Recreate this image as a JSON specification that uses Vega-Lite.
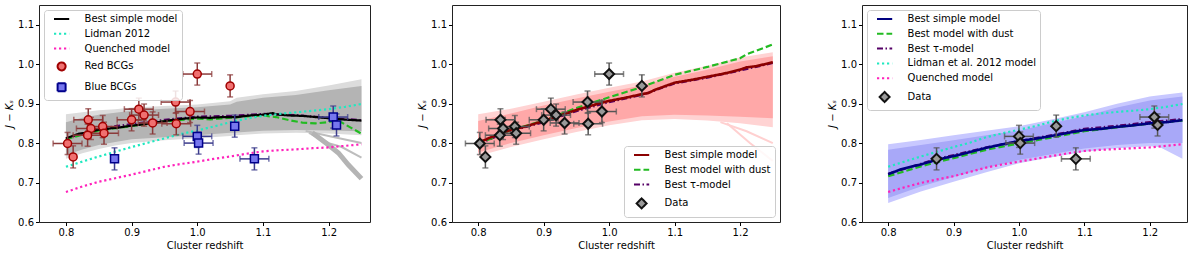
{
"$schema": "https://vega.github.io/schema/vega-lite/v6.json",
"padding": {"left": 4, "top": 4, "right": 0, "bottom": 0},
"spacing": 46,
"resolve": {"scale": {"x": "independent", "y": "independent", "stroke": "independent", "strokeDash": "independent", "shape": "independent", "fill": "independent"}, "legend": {"stroke": "independent", "strokeDash": "independent", "shape": "independent", "fill": "independent"}},
"config": {
  "font": "DejaVu Sans",
  "view": {"stroke": "#222", "strokeWidth": 1},
  "axis": {"grid": false, "domain": false, "labelFontSize": 10, "titleFontSize": 10, "titleFontWeight": "normal", "labelColor": "#000", "titleColor": "#000", "tickColor": "#000", "tickSize": 3.5, "labelPadding": 2, "titlePadding": 3},
  "axisY": {"titleFontStyle": "italic"},
  "legend": {"labelFontSize": 10, "labelColor": "#000", "fillColor": "rgba(255,255,255,0.85)", "strokeColor": "#cccccc", "cornerRadius": 3, "padding": 4, "offset": 5, "symbolSize": 64, "symbolOffset": 8.6, "labelOffset": 18, "rowPadding": 4.8, "symbolStrokeWidth": 2}
},
"datasets": {
  "b1": [
    {"x":0.80,"lt":0.873,"dt":0.853,"db":0.770,"lb":0.760},
    {"x":0.825,"lt":0.878,"dt":0.864,"db":0.784,"lb":0.774},
    {"x":0.85,"lt":0.883,"dt":0.872,"db":0.795,"lb":0.785},
    {"x":0.875,"lt":0.886,"dt":0.877,"db":0.803,"lb":0.794},
    {"x":0.90,"lt":0.890,"dt":0.882,"db":0.810,"lb":0.800},
    {"x":0.95,"lt":0.894,"dt":0.887,"db":0.815,"lb":0.807},
    {"x":1.00,"lt":0.898,"dt":0.891,"db":0.820,"lb":0.812},
    {"x":1.05,"lt":0.906,"dt":0.898,"db":0.826,"lb":0.818},
    {"x":1.06,"lt":0.915,"dt":0.905,"db":0.827,"lb":0.820},
    {"x":1.10,"lt":0.924,"dt":0.915,"db":0.831,"lb":0.824},
    {"x":1.15,"lt":0.932,"dt":0.922,"db":0.833,"lb":0.826},
    {"x":1.20,"lt":0.946,"dt":0.934,"db":0.832,"lb":0.824},
    {"x":1.25,"lt":0.962,"dt":0.945,"db":0.830,"lb":0.820}
  ],
  "s1a": [
    {"id":1,"x":1.165,"y":0.831},{"id":1,"x":1.20,"y":0.818},{"id":1,"x":1.25,"y":0.800},
    {"id":2,"x":1.17,"y":0.826},{"id":2,"x":1.20,"y":0.800},{"id":2,"x":1.22,"y":0.790},{"id":2,"x":1.25,"y":0.763}
  ],
  "s1b": [
    {"x":1.175,"y":0.826},{"x":1.20,"y":0.795},{"x":1.215,"y":0.775},{"x":1.23,"y":0.745},{"x":1.25,"y":0.710}
  ],
  "d1": [
    {"x":0.80,"y":0.810},{"x":0.85,"y":0.832},{"x":0.90,"y":0.843},{"x":0.95,"y":0.855},{"x":1.00,"y":0.862},{"x":1.02,"y":0.860},{"x":1.04,"y":0.863},{"x":1.06,"y":0.865},{"x":1.08,"y":0.868},{"x":1.10,"y":0.870},{"x":1.12,"y":0.866},{"x":1.14,"y":0.858},{"x":1.16,"y":0.852},{"x":1.18,"y":0.850},{"x":1.20,"y":0.853},{"x":1.21,"y":0.858},{"x":1.22,"y":0.852},{"x":1.235,"y":0.838},{"x":1.25,"y":0.824}
  ],
  "t1": [
    {"x":0.80,"y":0.811},{"x":0.85,"y":0.837},{"x":0.90,"y":0.848},{"x":0.95,"y":0.859},{"x":1.00,"y":0.867},{"x":1.05,"y":0.869},{"x":1.10,"y":0.874},{"x":1.15,"y":0.871},{"x":1.20,"y":0.864},{"x":1.25,"y":0.858}
  ],
  "l1": [
    {"s":"Best simple model","x":0.80,"y":0.812},{"s":"Best simple model","x":0.81,"y":0.818},{"s":"Best simple model","x":0.82,"y":0.824},{"s":"Best simple model","x":0.83,"y":0.826},{"s":"Best simple model","x":0.84,"y":0.830},{"s":"Best simple model","x":0.85,"y":0.834},{"s":"Best simple model","x":0.86,"y":0.835},{"s":"Best simple model","x":0.87,"y":0.838},{"s":"Best simple model","x":0.88,"y":0.839},{"s":"Best simple model","x":0.89,"y":0.842},{"s":"Best simple model","x":0.90,"y":0.844},{"s":"Best simple model","x":0.92,"y":0.848},{"s":"Best simple model","x":0.94,"y":0.853},{"s":"Best simple model","x":0.96,"y":0.858},{"s":"Best simple model","x":0.98,"y":0.862},{"s":"Best simple model","x":1.00,"y":0.865},{"s":"Best simple model","x":1.02,"y":0.864},{"s":"Best simple model","x":1.04,"y":0.866},{"s":"Best simple model","x":1.06,"y":0.866},{"s":"Best simple model","x":1.08,"y":0.870},{"s":"Best simple model","x":1.10,"y":0.872},{"s":"Best simple model","x":1.115,"y":0.876},{"s":"Best simple model","x":1.12,"y":0.873},{"s":"Best simple model","x":1.14,"y":0.870},{"s":"Best simple model","x":1.16,"y":0.869},{"s":"Best simple model","x":1.18,"y":0.866},{"s":"Best simple model","x":1.20,"y":0.863},{"s":"Best simple model","x":1.22,"y":0.860},{"s":"Best simple model","x":1.25,"y":0.857},
    {"s":"Lidman 2012","x":0.80,"y":0.740},{"s":"Lidman 2012","x":0.825,"y":0.753},{"s":"Lidman 2012","x":0.85,"y":0.766},{"s":"Lidman 2012","x":0.875,"y":0.778},{"s":"Lidman 2012","x":0.90,"y":0.790},{"s":"Lidman 2012","x":0.925,"y":0.801},{"s":"Lidman 2012","x":0.95,"y":0.812},{"s":"Lidman 2012","x":0.975,"y":0.823},{"s":"Lidman 2012","x":1.00,"y":0.832},{"s":"Lidman 2012","x":1.025,"y":0.842},{"s":"Lidman 2012","x":1.05,"y":0.853},{"s":"Lidman 2012","x":1.075,"y":0.862},{"s":"Lidman 2012","x":1.10,"y":0.869},{"s":"Lidman 2012","x":1.125,"y":0.874},{"s":"Lidman 2012","x":1.15,"y":0.878},{"s":"Lidman 2012","x":1.175,"y":0.882},{"s":"Lidman 2012","x":1.20,"y":0.886},{"s":"Lidman 2012","x":1.225,"y":0.892},{"s":"Lidman 2012","x":1.25,"y":0.899},
    {"s":"Quenched model","x":0.80,"y":0.676},{"s":"Quenched model","x":0.825,"y":0.690},{"s":"Quenched model","x":0.85,"y":0.702},{"s":"Quenched model","x":0.875,"y":0.711},{"s":"Quenched model","x":0.90,"y":0.720},{"s":"Quenched model","x":0.925,"y":0.730},{"s":"Quenched model","x":0.95,"y":0.740},{"s":"Quenched model","x":0.975,"y":0.747},{"s":"Quenched model","x":1.00,"y":0.753},{"s":"Quenched model","x":1.025,"y":0.760},{"s":"Quenched model","x":1.05,"y":0.766},{"s":"Quenched model","x":1.075,"y":0.773},{"s":"Quenched model","x":1.10,"y":0.779},{"s":"Quenched model","x":1.125,"y":0.782},{"s":"Quenched model","x":1.15,"y":0.784},{"s":"Quenched model","x":1.175,"y":0.787},{"s":"Quenched model","x":1.20,"y":0.789},{"s":"Quenched model","x":1.225,"y":0.793},{"s":"Quenched model","x":1.25,"y":0.797}
  ],
  "pts1": [
    {"s":"Red BCGs","x":0.8025,"y":0.799,"xe":0.022,"ye":0.028},
    {"s":"Red BCGs","x":0.811,"y":0.765,"xe":0,"ye":0.028},
    {"s":"Red BCGs","x":0.834,"y":0.859,"xe":0.022,"ye":0.028},
    {"s":"Red BCGs","x":0.838,"y":0.837,"xe":0.022,"ye":0.028},
    {"s":"Red BCGs","x":0.833,"y":0.820,"xe":0.022,"ye":0.028},
    {"s":"Red BCGs","x":0.856,"y":0.842,"xe":0.022,"ye":0.028},
    {"s":"Red BCGs","x":0.858,"y":0.825,"xe":0.022,"ye":0.028},
    {"s":"Red BCGs","x":0.900,"y":0.859,"xe":0.022,"ye":0.028},
    {"s":"Red BCGs","x":0.911,"y":0.886,"xe":0.022,"ye":0.028},
    {"s":"Red BCGs","x":0.919,"y":0.871,"xe":0.022,"ye":0.028},
    {"s":"Red BCGs","x":0.932,"y":0.851,"xe":0.022,"ye":0.028},
    {"s":"Red BCGs","x":0.967,"y":0.904,"xe":0.022,"ye":0.028},
    {"s":"Red BCGs","x":0.968,"y":0.849,"xe":0.022,"ye":0.028},
    {"s":"Red BCGs","x":0.989,"y":0.880,"xe":0.022,"ye":0.028},
    {"s":"Red BCGs","x":1.000,"y":0.975,"xe":0.022,"ye":0.028},
    {"s":"Red BCGs","x":1.050,"y":0.945,"xe":0,"ye":0.028},
    {"s":"Blue BCGs","x":0.874,"y":0.760,"xe":0,"ye":0.028},
    {"s":"Blue BCGs","x":1.000,"y":0.817,"xe":0.022,"ye":0.028},
    {"s":"Blue BCGs","x":1.002,"y":0.800,"xe":0.022,"ye":0.028},
    {"s":"Blue BCGs","x":1.057,"y":0.843,"xe":0,"ye":0.028},
    {"s":"Blue BCGs","x":1.087,"y":0.760,"xe":0.022,"ye":0.028},
    {"s":"Blue BCGs","x":1.207,"y":0.866,"xe":0.022,"ye":0.028},
    {"s":"Blue BCGs","x":1.212,"y":0.846,"xe":0,"ye":0.028}
  ],
  "b2": [
    {"x":0.80,"lt":0.873,"dt":0.856,"db":0.776,"lb":0.767},
    {"x":0.85,"lt":0.887,"dt":0.875,"db":0.800,"lb":0.790},
    {"x":0.90,"lt":0.905,"dt":0.895,"db":0.820,"lb":0.810},
    {"x":0.95,"lt":0.923,"dt":0.913,"db":0.838,"lb":0.828},
    {"x":1.00,"lt":0.940,"dt":0.930,"db":0.855,"lb":0.845},
    {"x":1.05,"lt":0.956,"dt":0.946,"db":0.868,"lb":0.858},
    {"x":1.10,"lt":0.978,"dt":0.968,"db":0.872,"lb":0.861},
    {"x":1.15,"lt":0.996,"dt":0.986,"db":0.870,"lb":0.857},
    {"x":1.20,"lt":1.017,"dt":1.007,"db":0.867,"lb":0.850},
    {"x":1.25,"lt":1.030,"dt":1.020,"db":0.863,"lb":0.840}
  ],
  "s2": [
    {"id":1,"x":1.17,"y":0.853},{"id":1,"x":1.21,"y":0.830},{"id":1,"x":1.25,"y":0.800},
    {"id":2,"x":1.18,"y":0.850},{"id":2,"x":1.215,"y":0.800},{"id":2,"x":1.25,"y":0.755}
  ],
  "l2": [
    {"s":"Best simple model","x":0.80,"y":0.801},{"s":"Best simple model","x":0.82,"y":0.815},{"s":"Best simple model","x":0.85,"y":0.834},{"s":"Best simple model","x":0.87,"y":0.841},{"s":"Best simple model","x":0.90,"y":0.856},{"s":"Best simple model","x":0.925,"y":0.870},{"s":"Best simple model","x":0.95,"y":0.884},{"s":"Best simple model","x":0.975,"y":0.896},{"s":"Best simple model","x":1.00,"y":0.907},{"s":"Best simple model","x":1.025,"y":0.915},{"s":"Best simple model","x":1.05,"y":0.924},{"s":"Best simple model","x":1.06,"y":0.927},{"s":"Best simple model","x":1.07,"y":0.935},{"s":"Best simple model","x":1.10,"y":0.953},{"s":"Best simple model","x":1.125,"y":0.960},{"s":"Best simple model","x":1.15,"y":0.968},{"s":"Best simple model","x":1.175,"y":0.976},{"s":"Best simple model","x":1.20,"y":0.986},{"s":"Best simple model","x":1.21,"y":0.992},{"s":"Best simple model","x":1.225,"y":0.995},{"s":"Best simple model","x":1.25,"y":1.005},
    {"s":"Best model with dust","x":0.80,"y":0.798},{"s":"Best model with dust","x":0.85,"y":0.833},{"s":"Best model with dust","x":0.90,"y":0.857},{"s":"Best model with dust","x":0.95,"y":0.889},{"s":"Best model with dust","x":1.00,"y":0.916},{"s":"Best model with dust","x":1.05,"y":0.942},{"s":"Best model with dust","x":1.10,"y":0.973},{"s":"Best model with dust","x":1.15,"y":0.993},{"s":"Best model with dust","x":1.20,"y":1.015},{"s":"Best model with dust","x":1.21,"y":1.025},{"s":"Best model with dust","x":1.25,"y":1.050},
    {"s":"Best τ-model","x":0.80,"y":0.798},{"s":"Best τ-model","x":0.85,"y":0.831},{"s":"Best τ-model","x":0.90,"y":0.853},{"s":"Best τ-model","x":0.95,"y":0.881},{"s":"Best τ-model","x":1.00,"y":0.904},{"s":"Best τ-model","x":1.05,"y":0.922},{"s":"Best τ-model","x":1.10,"y":0.951},{"s":"Best τ-model","x":1.15,"y":0.966},{"s":"Best τ-model","x":1.20,"y":0.984},{"s":"Best τ-model","x":1.25,"y":1.003}
  ],
  "pts2": [
    {"s":"Data","x":0.8025,"y":0.799,"xe":0.022,"ye":0.028},
    {"s":"Data","x":0.811,"y":0.765,"xe":0,"ye":0.028},
    {"s":"Data","x":0.834,"y":0.859,"xe":0.022,"ye":0.028},
    {"s":"Data","x":0.838,"y":0.837,"xe":0.022,"ye":0.028},
    {"s":"Data","x":0.833,"y":0.820,"xe":0.022,"ye":0.028},
    {"s":"Data","x":0.856,"y":0.842,"xe":0.022,"ye":0.028},
    {"s":"Data","x":0.858,"y":0.825,"xe":0.022,"ye":0.028},
    {"s":"Data","x":0.900,"y":0.859,"xe":0.022,"ye":0.028},
    {"s":"Data","x":0.911,"y":0.886,"xe":0.022,"ye":0.028},
    {"s":"Data","x":0.919,"y":0.871,"xe":0.022,"ye":0.028},
    {"s":"Data","x":0.932,"y":0.851,"xe":0.022,"ye":0.028},
    {"s":"Data","x":0.967,"y":0.904,"xe":0.022,"ye":0.028},
    {"s":"Data","x":0.968,"y":0.849,"xe":0.022,"ye":0.028},
    {"s":"Data","x":0.989,"y":0.880,"xe":0.022,"ye":0.028},
    {"s":"Data","x":1.000,"y":0.975,"xe":0.022,"ye":0.028},
    {"s":"Data","x":1.050,"y":0.945,"xe":0,"ye":0.028}
  ],
  "b3": [
    {"x":0.80,"lt":0.797,"dt":0.783,"db":0.661,"lb":0.648},
    {"x":0.85,"lt":0.808,"dt":0.795,"db":0.690,"lb":0.677},
    {"x":0.90,"lt":0.820,"dt":0.807,"db":0.714,"lb":0.702},
    {"x":0.95,"lt":0.831,"dt":0.820,"db":0.737,"lb":0.726},
    {"x":1.00,"lt":0.843,"dt":0.832,"db":0.757,"lb":0.749},
    {"x":1.05,"lt":0.860,"dt":0.850,"db":0.772,"lb":0.764},
    {"x":1.10,"lt":0.878,"dt":0.868,"db":0.786,"lb":0.778},
    {"x":1.15,"lt":0.900,"dt":0.890,"db":0.795,"lb":0.787},
    {"x":1.20,"lt":0.918,"dt":0.908,"db":0.800,"lb":0.792},
    {"x":1.215,"lt":0.921,"dt":0.911,"db":0.800,"lb":0.790},
    {"x":1.25,"lt":0.928,"dt":0.918,"db":0.800,"lb":0.760}
  ],
  "l3": [
    {"s":"Best τ-model","x":0.80,"y":0.722},{"s":"Best τ-model","x":0.875,"y":0.760},{"s":"Best τ-model","x":0.95,"y":0.789},{"s":"Best τ-model","x":1.00,"y":0.805},{"s":"Best τ-model","x":1.05,"y":0.820},{"s":"Best τ-model","x":1.10,"y":0.836},{"s":"Best τ-model","x":1.15,"y":0.844},{"s":"Best τ-model","x":1.20,"y":0.853},{"s":"Best τ-model","x":1.25,"y":0.861},
    {"s":"Best model with dust","x":0.80,"y":0.716},{"s":"Best model with dust","x":0.85,"y":0.741},{"s":"Best model with dust","x":0.875,"y":0.752},{"s":"Best model with dust","x":0.90,"y":0.762},{"s":"Best model with dust","x":0.95,"y":0.783},{"s":"Best model with dust","x":1.00,"y":0.799},{"s":"Best model with dust","x":1.05,"y":0.814},{"s":"Best model with dust","x":1.10,"y":0.830},{"s":"Best model with dust","x":1.15,"y":0.840},{"s":"Best model with dust","x":1.20,"y":0.849},{"s":"Best model with dust","x":1.25,"y":0.857},
    {"s":"Best simple model","x":0.80,"y":0.721},{"s":"Best simple model","x":0.82,"y":0.734},{"s":"Best simple model","x":0.85,"y":0.746},{"s":"Best simple model","x":0.875,"y":0.758},{"s":"Best simple model","x":0.90,"y":0.767},{"s":"Best simple model","x":0.925,"y":0.777},{"s":"Best simple model","x":0.95,"y":0.788},{"s":"Best simple model","x":0.975,"y":0.797},{"s":"Best simple model","x":1.00,"y":0.805},{"s":"Best simple model","x":1.025,"y":0.811},{"s":"Best simple model","x":1.05,"y":0.818},{"s":"Best simple model","x":1.075,"y":0.826},{"s":"Best simple model","x":1.10,"y":0.833},{"s":"Best simple model","x":1.125,"y":0.836},{"s":"Best simple model","x":1.15,"y":0.841},{"s":"Best simple model","x":1.175,"y":0.845},{"s":"Best simple model","x":1.20,"y":0.850},{"s":"Best simple model","x":1.225,"y":0.853},{"s":"Best simple model","x":1.25,"y":0.858},
    {"s":"Lidman et al. 2012 model","x":0.80,"y":0.740},{"s":"Lidman et al. 2012 model","x":0.825,"y":0.753},{"s":"Lidman et al. 2012 model","x":0.85,"y":0.766},{"s":"Lidman et al. 2012 model","x":0.875,"y":0.778},{"s":"Lidman et al. 2012 model","x":0.90,"y":0.790},{"s":"Lidman et al. 2012 model","x":0.925,"y":0.801},{"s":"Lidman et al. 2012 model","x":0.95,"y":0.815},{"s":"Lidman et al. 2012 model","x":0.975,"y":0.825},{"s":"Lidman et al. 2012 model","x":1.00,"y":0.834},{"s":"Lidman et al. 2012 model","x":1.025,"y":0.843},{"s":"Lidman et al. 2012 model","x":1.05,"y":0.854},{"s":"Lidman et al. 2012 model","x":1.075,"y":0.863},{"s":"Lidman et al. 2012 model","x":1.10,"y":0.870},{"s":"Lidman et al. 2012 model","x":1.125,"y":0.875},{"s":"Lidman et al. 2012 model","x":1.15,"y":0.879},{"s":"Lidman et al. 2012 model","x":1.175,"y":0.882},{"s":"Lidman et al. 2012 model","x":1.20,"y":0.886},{"s":"Lidman et al. 2012 model","x":1.225,"y":0.892},{"s":"Lidman et al. 2012 model","x":1.25,"y":0.899},
    {"s":"Quenched model","x":0.80,"y":0.676},{"s":"Quenched model","x":0.825,"y":0.688},{"s":"Quenched model","x":0.85,"y":0.699},{"s":"Quenched model","x":0.875,"y":0.708},{"s":"Quenched model","x":0.90,"y":0.716},{"s":"Quenched model","x":0.925,"y":0.727},{"s":"Quenched model","x":0.95,"y":0.738},{"s":"Quenched model","x":0.975,"y":0.746},{"s":"Quenched model","x":1.00,"y":0.753},{"s":"Quenched model","x":1.025,"y":0.760},{"s":"Quenched model","x":1.05,"y":0.767},{"s":"Quenched model","x":1.075,"y":0.774},{"s":"Quenched model","x":1.10,"y":0.780},{"s":"Quenched model","x":1.125,"y":0.783},{"s":"Quenched model","x":1.15,"y":0.785},{"s":"Quenched model","x":1.175,"y":0.787},{"s":"Quenched model","x":1.20,"y":0.789},{"s":"Quenched model","x":1.225,"y":0.793},{"s":"Quenched model","x":1.25,"y":0.797}
  ],
  "pts3": [
    {"s":"Data","x":0.874,"y":0.760,"xe":0,"ye":0.028},
    {"s":"Data","x":1.000,"y":0.817,"xe":0.022,"ye":0.028},
    {"s":"Data","x":1.002,"y":0.800,"xe":0.022,"ye":0.028},
    {"s":"Data","x":1.057,"y":0.843,"xe":0,"ye":0.028},
    {"s":"Data","x":1.087,"y":0.760,"xe":0.022,"ye":0.028},
    {"s":"Data","x":1.207,"y":0.866,"xe":0.022,"ye":0.028},
    {"s":"Data","x":1.212,"y":0.846,"xe":0,"ye":0.028}
  ]
},
"hconcat": [
 {
  "width": 331, "height": 217,
  "layer": [
   {"data": {"name": "b1"}, "mark": {"type": "area", "color": "#dcdcdc", "clip": true},
    "encoding": {
     "x": {"field":"x","type":"quantitative","scale":{"domain":[0.759,1.263],"nice":false,"zero":false},"axis":{"values":[0.8,0.9,1.0,1.1,1.2],"format":".1f"},"title":"Cluster redshift"},
     "y": {"field":"lt","type":"quantitative","scale":{"domain":[0.6,1.15],"nice":false,"zero":false},"axis":{"values":[0.6,0.7,0.8,0.9,1.0,1.1],"format":".1f"},"title":"J − Kₛ"},
     "y2": {"field":"lb"}}},
   {"data": {"name": "b1"}, "mark": {"type": "area", "color": "#b4b4b4", "clip": true},
    "encoding": {
     "x": {"field":"x","type":"quantitative","title":"Cluster redshift"},
     "y": {"field":"dt","type":"quantitative","title":"J − Kₛ"},
     "y2": {"field":"db"}}},
   {"data": {"name": "s1a"}, "mark": {"type": "line", "color": "#bdbdbd", "strokeWidth": 2, "clip": true},
    "encoding": {"x": {"field":"x","type":"quantitative","title":"Cluster redshift"}, "y": {"field":"y","type":"quantitative","title":"J − Kₛ"}, "detail": {"field":"id"}}},
   {"data": {"name": "s1b"}, "mark": {"type": "line", "color": "#b4b4b4", "strokeWidth": 5, "clip": true},
    "encoding": {"x": {"field":"x","type":"quantitative","title":"Cluster redshift"}, "y": {"field":"y","type":"quantitative","title":"J − Kₛ"}}},
   {"data": {"name": "t1"}, "mark": {"type": "line", "color": "#550066", "strokeWidth": 2.2, "strokeDash": [6,2.5,1.5,2.5], "clip": true},
    "encoding": {"x": {"field":"x","type":"quantitative","title":"Cluster redshift"}, "y": {"field":"y","type":"quantitative","title":"J − Kₛ"}}},
   {"data": {"name": "d1"}, "mark": {"type": "line", "color": "#22bb22", "strokeWidth": 2.2, "strokeDash": [6.5,3], "clip": true},
    "encoding": {"x": {"field":"x","type":"quantitative","title":"Cluster redshift"}, "y": {"field":"y","type":"quantitative","title":"J − Kₛ"}}},
   {"data": {"name": "l1"}, "mark": {"type": "line", "strokeWidth": 2.2, "clip": true},
    "encoding": {
     "x": {"field":"x","type":"quantitative","title":"Cluster redshift"}, "y": {"field":"y","type":"quantitative","title":"J − Kₛ"},
     "stroke": {"field":"s","type":"nominal","scale":{"domain":["Best simple model","Lidman 2012","Quenched model","Red BCGs","Blue BCGs"],"range":["#000000","#20e8c0","#ff22bb","#a00000","#00008b"]},"legend":{"title":null,"orient":"top-left"}},
     "strokeDash": {"field":"s","type":"nominal","scale":{"domain":["Best simple model","Lidman 2012","Quenched model","Red BCGs","Blue BCGs"],"range":[[1,0],[2.2,2.8],[2.2,2.8],[1,0],[1,0]]},"legend":{"title":null,"orient":"top-left"}}}},
   {"data": {"name": "pts1"}, "transform": [{"filter": "datum.s == 'Red BCGs'"}], "mark": {"type": "errorbar", "color": "#8b3a3a", "ticks": true, "size": 6, "thickness": 1.5},
    "encoding": {"x": {"field":"x","type":"quantitative","title":"Cluster redshift"}, "y": {"field":"y","type":"quantitative","title":"J − Kₛ"}, "yError": {"field":"ye"}}},
   {"data": {"name": "pts1"}, "transform": [{"filter": "datum.s == 'Red BCGs' && datum.xe > 0"}], "mark": {"type": "errorbar", "color": "#8b3a3a", "ticks": true, "size": 6, "thickness": 1.5},
    "encoding": {"x": {"field":"x","type":"quantitative","title":"Cluster redshift"}, "xError": {"field":"xe"}, "y": {"field":"y","type":"quantitative","title":"J − Kₛ"}}},
   {"data": {"name": "pts1"}, "transform": [{"filter": "datum.s == 'Blue BCGs'"}], "mark": {"type": "errorbar", "color": "#3c3c8c", "ticks": true, "size": 6, "thickness": 1.5},
    "encoding": {"x": {"field":"x","type":"quantitative","title":"Cluster redshift"}, "y": {"field":"y","type":"quantitative","title":"J − Kₛ"}, "yError": {"field":"ye"}}},
   {"data": {"name": "pts1"}, "transform": [{"filter": "datum.s == 'Blue BCGs' && datum.xe > 0"}], "mark": {"type": "errorbar", "color": "#3c3c8c", "ticks": true, "size": 6, "thickness": 1.5},
    "encoding": {"x": {"field":"x","type":"quantitative","title":"Cluster redshift"}, "xError": {"field":"xe"}, "y": {"field":"y","type":"quantitative","title":"J − Kₛ"}}},
   {"data": {"name": "pts1"}, "mark": {"type": "point", "filled": true, "opacity": 1, "size": 64, "strokeWidth": 1.5},
    "encoding": {
     "x": {"field":"x","type":"quantitative","title":"Cluster redshift"}, "y": {"field":"y","type":"quantitative","title":"J − Kₛ"},
     "shape": {"field":"s","type":"nominal","scale":{"domain":["Best simple model","Lidman 2012","Quenched model","Red BCGs","Blue BCGs"],"range":["M-1.9,0H1.9","M-1.9,0H1.9","M-1.9,0H1.9","circle","square"]},"legend":{"title":null,"orient":"top-left"}},
     "fill": {"field":"s","type":"nominal","scale":{"domain":["Best simple model","Lidman 2012","Quenched model","Red BCGs","Blue BCGs"],"range":["transparent","transparent","transparent","#f07070","#7777ee"]},"legend":{"title":null,"orient":"top-left"}},
     "stroke": {"field":"s","type":"nominal","legend":{"title":null,"orient":"top-left"}}}}
  ]
 },
 {
  "width": 328, "height": 217,
  "layer": [
   {"data": {"name": "b2"}, "mark": {"type": "area", "color": "#ffd3d3", "clip": true},
    "encoding": {
     "x": {"field":"x","type":"quantitative","scale":{"domain":[0.760,1.261],"nice":false,"zero":false},"axis":{"values":[0.8,0.9,1.0,1.1,1.2],"format":".1f"},"title":"Cluster redshift"},
     "y": {"field":"lt","type":"quantitative","scale":{"domain":[0.6,1.15],"nice":false,"zero":false},"axis":{"values":[0.6,0.7,0.8,0.9,1.0,1.1],"format":".1f"},"title":"J − Kₛ"},
     "y2": {"field":"lb"}}},
   {"data": {"name": "b2"}, "mark": {"type": "area", "color": "#ffa8a8", "clip": true},
    "encoding": {
     "x": {"field":"x","type":"quantitative","title":"Cluster redshift"},
     "y": {"field":"dt","type":"quantitative","title":"J − Kₛ"},
     "y2": {"field":"db"}}},
   {"data": {"name": "s2"}, "mark": {"type": "line", "color": "#ffd0d0", "strokeWidth": 2, "clip": true},
    "encoding": {"x": {"field":"x","type":"quantitative","title":"Cluster redshift"}, "y": {"field":"y","type":"quantitative","title":"J − Kₛ"}, "detail": {"field":"id"}}},
   {"data": {"name": "l2"}, "transform": [{"filter": "datum.s == 'Best τ-model'"}], "mark": {"type": "line", "strokeWidth": 2.2, "clip": true},
    "encoding": {
     "x": {"field":"x","type":"quantitative","title":"Cluster redshift"}, "y": {"field":"y","type":"quantitative","title":"J − Kₛ"},
     "stroke": {"field":"s","type":"nominal","scale":{"domain":["Best simple model","Best model with dust","Best τ-model","Data"],"range":["#8b0000","#22bb22","#550066","#111111"]},"legend":{"title":null,"orient":"bottom-right"}},
     "strokeDash": {"field":"s","type":"nominal","scale":{"domain":["Best simple model","Best model with dust","Best τ-model","Data"],"range":[[1,0],[6.5,3],[6,2.5,1.5,2.5],[1,0]]},"legend":{"title":null,"orient":"bottom-right"}}}},
   {"data": {"name": "l2"}, "transform": [{"filter": "datum.s == 'Best model with dust'"}], "mark": {"type": "line", "strokeWidth": 2.2, "clip": true},
    "encoding": {
     "x": {"field":"x","type":"quantitative","title":"Cluster redshift"}, "y": {"field":"y","type":"quantitative","title":"J − Kₛ"},
     "stroke": {"field":"s","type":"nominal","legend":{"title":null,"orient":"bottom-right"}},
     "strokeDash": {"field":"s","type":"nominal","legend":{"title":null,"orient":"bottom-right"}}}},
   {"data": {"name": "l2"}, "transform": [{"filter": "datum.s == 'Best simple model'"}], "mark": {"type": "line", "strokeWidth": 2.6, "clip": true},
    "encoding": {
     "x": {"field":"x","type":"quantitative","title":"Cluster redshift"}, "y": {"field":"y","type":"quantitative","title":"J − Kₛ"},
     "stroke": {"field":"s","type":"nominal","legend":{"title":null,"orient":"bottom-right"}},
     "strokeDash": {"field":"s","type":"nominal","legend":{"title":null,"orient":"bottom-right"}}}},
   {"data": {"name": "pts2"}, "mark": {"type": "errorbar", "color": "#555555", "ticks": true, "size": 6, "thickness": 1.5},
    "encoding": {"x": {"field":"x","type":"quantitative","title":"Cluster redshift"}, "y": {"field":"y","type":"quantitative","title":"J − Kₛ"}, "yError": {"field":"ye"}}},
   {"data": {"name": "pts2"}, "transform": [{"filter": "datum.xe > 0"}], "mark": {"type": "errorbar", "color": "#555555", "ticks": true, "size": 6, "thickness": 1.5},
    "encoding": {"x": {"field":"x","type":"quantitative","title":"Cluster redshift"}, "xError": {"field":"xe"}, "y": {"field":"y","type":"quantitative","title":"J − Kₛ"}}},
   {"data": {"name": "pts2"}, "mark": {"type": "point", "filled": true, "opacity": 1, "size": 64, "strokeWidth": 2},
    "encoding": {
     "x": {"field":"x","type":"quantitative","title":"Cluster redshift"}, "y": {"field":"y","type":"quantitative","title":"J − Kₛ"},
     "shape": {"field":"s","type":"nominal","scale":{"domain":["Best simple model","Best model with dust","Best τ-model","Data"],"range":["M-1.9,0H1.9","M-1.9,0H1.9","M-1.9,0H1.9","M0,-1.25L1.25,0L0,1.25L-1.25,0Z"]},"legend":{"title":null,"orient":"bottom-right"}},
     "fill": {"field":"s","type":"nominal","scale":{"domain":["Best simple model","Best model with dust","Best τ-model","Data"],"range":["transparent","transparent","transparent","#999999"]},"legend":{"title":null,"orient":"bottom-right"}},
     "stroke": {"field":"s","type":"nominal","legend":{"title":null,"orient":"bottom-right"}}}}
  ]
 },
 {
  "width": 325, "height": 217,
  "layer": [
   {"data": {"name": "b3"}, "mark": {"type": "area", "color": "#c8c8ff", "clip": true},
    "encoding": {
     "x": {"field":"x","type":"quantitative","scale":{"domain":[0.760,1.257],"nice":false,"zero":false},"axis":{"values":[0.8,0.9,1.0,1.1,1.2],"format":".1f"},"title":"Cluster redshift"},
     "y": {"field":"lt","type":"quantitative","scale":{"domain":[0.6,1.15],"nice":false,"zero":false},"axis":{"values":[0.6,0.7,0.8,0.9,1.0,1.1],"format":".1f"},"title":"J − Kₛ"},
     "y2": {"field":"lb"}}},
   {"data": {"name": "b3"}, "mark": {"type": "area", "color": "#a8a8f8", "clip": true},
    "encoding": {
     "x": {"field":"x","type":"quantitative","title":"Cluster redshift"},
     "y": {"field":"dt","type":"quantitative","title":"J − Kₛ"},
     "y2": {"field":"db"}}},
   {"data": {"name": "l3"}, "transform": [{"filter": "datum.s == 'Lidman et al. 2012 model' || datum.s == 'Quenched model'"}], "mark": {"type": "line", "strokeWidth": 2.2, "clip": true},
    "encoding": {
     "x": {"field":"x","type":"quantitative","title":"Cluster redshift"}, "y": {"field":"y","type":"quantitative","title":"J − Kₛ"},
     "stroke": {"field":"s","type":"nominal","scale":{"domain":["Best simple model","Best model with dust","Best τ-model","Lidman et al. 2012 model","Quenched model","Data"],"range":["#000080","#22bb22","#550066","#20e8c0","#ff22bb","#111111"]},"legend":{"title":null,"orient":"top-left"}},
     "strokeDash": {"field":"s","type":"nominal","scale":{"domain":["Best simple model","Best model with dust","Best τ-model","Lidman et al. 2012 model","Quenched model","Data"],"range":[[1,0],[6.5,3],[6,2.5,1.5,2.5],[2.2,2.8],[2.2,2.8],[1,0]]},"legend":{"title":null,"orient":"top-left"}}}},
   {"data": {"name": "l3"}, "transform": [{"filter": "datum.s == 'Best τ-model'"}], "mark": {"type": "line", "strokeWidth": 2.2, "clip": true},
    "encoding": {
     "x": {"field":"x","type":"quantitative","title":"Cluster redshift"}, "y": {"field":"y","type":"quantitative","title":"J − Kₛ"},
     "stroke": {"field":"s","type":"nominal","legend":{"title":null,"orient":"top-left"}},
     "strokeDash": {"field":"s","type":"nominal","legend":{"title":null,"orient":"top-left"}}}},
   {"data": {"name": "l3"}, "transform": [{"filter": "datum.s == 'Best model with dust'"}], "mark": {"type": "line", "strokeWidth": 2.2, "clip": true},
    "encoding": {
     "x": {"field":"x","type":"quantitative","title":"Cluster redshift"}, "y": {"field":"y","type":"quantitative","title":"J − Kₛ"},
     "stroke": {"field":"s","type":"nominal","legend":{"title":null,"orient":"top-left"}},
     "strokeDash": {"field":"s","type":"nominal","legend":{"title":null,"orient":"top-left"}}}},
   {"data": {"name": "l3"}, "transform": [{"filter": "datum.s == 'Best simple model'"}], "mark": {"type": "line", "strokeWidth": 2.6, "clip": true},
    "encoding": {
     "x": {"field":"x","type":"quantitative","title":"Cluster redshift"}, "y": {"field":"y","type":"quantitative","title":"J − Kₛ"},
     "stroke": {"field":"s","type":"nominal","legend":{"title":null,"orient":"top-left"}},
     "strokeDash": {"field":"s","type":"nominal","legend":{"title":null,"orient":"top-left"}}}},
   {"data": {"name": "pts3"}, "mark": {"type": "errorbar", "color": "#555555", "ticks": true, "size": 6, "thickness": 1.5},
    "encoding": {"x": {"field":"x","type":"quantitative","title":"Cluster redshift"}, "y": {"field":"y","type":"quantitative","title":"J − Kₛ"}, "yError": {"field":"ye"}}},
   {"data": {"name": "pts3"}, "transform": [{"filter": "datum.xe > 0"}], "mark": {"type": "errorbar", "color": "#555555", "ticks": true, "size": 6, "thickness": 1.5},
    "encoding": {"x": {"field":"x","type":"quantitative","title":"Cluster redshift"}, "xError": {"field":"xe"}, "y": {"field":"y","type":"quantitative","title":"J − Kₛ"}}},
   {"data": {"name": "pts3"}, "mark": {"type": "point", "filled": true, "opacity": 1, "size": 64, "strokeWidth": 2},
    "encoding": {
     "x": {"field":"x","type":"quantitative","title":"Cluster redshift"}, "y": {"field":"y","type":"quantitative","title":"J − Kₛ"},
     "shape": {"field":"s","type":"nominal","scale":{"domain":["Best simple model","Best model with dust","Best τ-model","Lidman et al. 2012 model","Quenched model","Data"],"range":["M-1.9,0H1.9","M-1.9,0H1.9","M-1.9,0H1.9","M-1.9,0H1.9","M-1.9,0H1.9","M0,-1.25L1.25,0L0,1.25L-1.25,0Z"]},"legend":{"title":null,"orient":"top-left"}},
     "fill": {"field":"s","type":"nominal","scale":{"domain":["Best simple model","Best model with dust","Best τ-model","Lidman et al. 2012 model","Quenched model","Data"],"range":["transparent","transparent","transparent","transparent","transparent","#999999"]},"legend":{"title":null,"orient":"top-left"}},
     "stroke": {"field":"s","type":"nominal","legend":{"title":null,"orient":"top-left"}}}}
  ]
 }
]
}
